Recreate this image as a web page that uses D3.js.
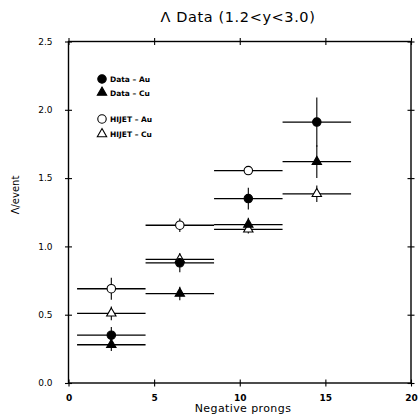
<!DOCTYPE html>
<html>
<head>
<meta charset="utf-8">
<script src="https://cdn.jsdelivr.net/npm/d3@7"></script>
<style>
  html, body { margin: 0; padding: 0; background: #fff; }
  svg { display: block; }
  text { font-family: "DejaVu Sans", sans-serif; fill: #000; }
</style>
</head>
<body>
<svg id="chart" width="418" height="420"></svg>
<script>
// ---- data ----
const binLow    = [0.5, 4.5, 8.5, 12.5];
const binHigh   = [4.5, 8.5, 12.5, 16.5];
const binCenter = [2.5, 6.5, 10.5, 14.5];

const dataAu     = [0.35, 0.88, 1.35, 1.91];
const dataAuErr  = [0.06, 0.07, 0.08, 0.18];
const dataCu     = [0.28, 0.655, 1.16, 1.62];
const dataCuErr  = [0.045, 0.05, 0.05, 0.12];
const hijetAu    = [0.69, 1.155, 1.555, null];
const hijetAuErr = [0.08, 0.05, 0.03, null];
const hijetCu    = [0.51, 0.905, 1.125, 1.385];
const hijetCuErr = [0.05, 0.03, 0.03, 0.06];

const xTicks = [0, 5, 10, 15, 20];
const yTicks = [0.0, 0.5, 1.0, 1.5, 2.0, 2.5];

const seriesNames = ["Data – Au", "Data – Cu", "HIJET – Au", "HIJET – Cu"];

// ---- chart ----
const svg = d3.select("#chart");
const x = d3.scaleLinear().domain([0, 20]).range([68.5, 411]);
const y = d3.scaleLinear().domain([0, 2.5]).range([383, 41.5]);

const series = [
  { name: seriesNames[0], vals: dataAu,  errs: dataAuErr,  shape: "circle",   fill: "#000" },
  { name: seriesNames[1], vals: dataCu,  errs: dataCuErr,  shape: "triangle", fill: "#000" },
  { name: seriesNames[2], vals: hijetAu, errs: hijetAuErr, shape: "circle",   fill: "#fff" },
  { name: seriesNames[3], vals: hijetCu, errs: hijetCuErr, shape: "triangle", fill: "#fff" }
];

// frame
svg.append("rect")
  .attr("x", x(0)).attr("y", y(2.5))
  .attr("width", x(20) - x(0)).attr("height", y(0) - y(2.5))
  .attr("fill", "none").attr("stroke", "#000").attr("stroke-width", 1.4);

function crossTicks(g, horiz) {
  g.select(".domain").remove();
  g.selectAll(".tick line")
    .attr("stroke", "#000").attr("stroke-width", 1.1)
    .attr(horiz ? "y1" : "x1", -3.5).attr(horiz ? "y2" : "x2", 3.5);
}

const gB = svg.append("g").attr("transform", `translate(0,${y(0)})`)
  .call(d3.axisBottom(x).tickValues(xTicks).tickFormat(d3.format("d")).tickSize(4).tickPadding(8));
crossTicks(gB, true);
gB.selectAll("text").attr("font-size", 9).attr("font-weight", "bold").attr("font-family", "DejaVu Sans");

const gT = svg.append("g").attr("transform", `translate(0,${y(2.5)})`)
  .call(d3.axisTop(x).tickValues(xTicks).tickFormat("").tickSize(4));
crossTicks(gT, true);

const gL = svg.append("g").attr("transform", `translate(${x(0)},0)`)
  .call(d3.axisLeft(y).tickValues(yTicks).tickFormat(d3.format(".1f")).tickSize(4).tickPadding(12));
crossTicks(gL, false);
gL.selectAll("text").attr("font-size", 9).attr("font-family", "DejaVu Sans");

const gR = svg.append("g").attr("transform", `translate(${x(20)},0)`)
  .call(d3.axisRight(y).tickValues(yTicks).tickFormat("").tickSize(4));
crossTicks(gR, false);

// titles
svg.append("text").attr("x", 238).attr("y", 22).attr("text-anchor", "middle")
  .attr("font-size", 14.5).attr("letter-spacing", 0.6).text("Λ Data (1.2<y<3.0)");
svg.append("text").attr("x", 243).attr("y", 412).attr("text-anchor", "middle")
  .attr("font-size", 11).attr("letter-spacing", 0.4).text("Negative prongs");
svg.append("text").attr("transform", "translate(19,195) rotate(-90)")
  .attr("text-anchor", "middle").attr("font-size", 10).text("Λ/event");

// error bars
const plot = svg.append("g");
series.forEach(s => {
  const pts = s.vals.map((v, i) => ({ v, e: s.errs[i], i })).filter(d => d.v != null);
  plot.selectAll(null).data(pts).enter().append("line")
    .attr("x1", d => x(binLow[d.i])).attr("x2", d => x(binHigh[d.i]))
    .attr("y1", d => y(d.v)).attr("y2", d => y(d.v))
    .attr("stroke", "#000").attr("stroke-width", 1.3);
  plot.selectAll(null).data(pts).enter().append("line")
    .attr("x1", d => x(binCenter[d.i])).attr("x2", d => x(binCenter[d.i]))
    .attr("y1", d => y(d.v - d.e)).attr("y2", d => y(d.v + d.e))
    .attr("stroke", "#000").attr("stroke-width", 1.1);
});

const circleSym = d3.symbol().type(d3.symbolCircle).size(56);
const triSym = d3.symbol().type(d3.symbolTriangle).size(38);

function marker(g, shape, fill, cx, cy) {
  g.append("path")
    .attr("d", shape === "circle" ? circleSym() : triSym())
    .attr("transform", `translate(${cx},${cy})`)
    .attr("fill", fill).attr("stroke", "#000").attr("stroke-width", 1.1);
}

// draw open markers first, then filled on top
[2, 3, 0, 1].forEach(k => {
  const s = series[k];
  s.vals.forEach((v, i) => {
    if (v == null) return;
    marker(plot, s.shape, s.fill, x(binCenter[i]), y(v));
  });
});

// legend
const legY = [79, 92.5, 119, 134];
const leg = svg.append("g");
series.forEach((s, k) => {
  marker(leg, s.shape, s.fill, 102, legY[k]);
  leg.append("text").attr("x", 110).attr("y", legY[k] + 3)
    .attr("font-size", 7.5).attr("font-weight", "bold").text(s.name);
});
</script>
</body>
</html>
